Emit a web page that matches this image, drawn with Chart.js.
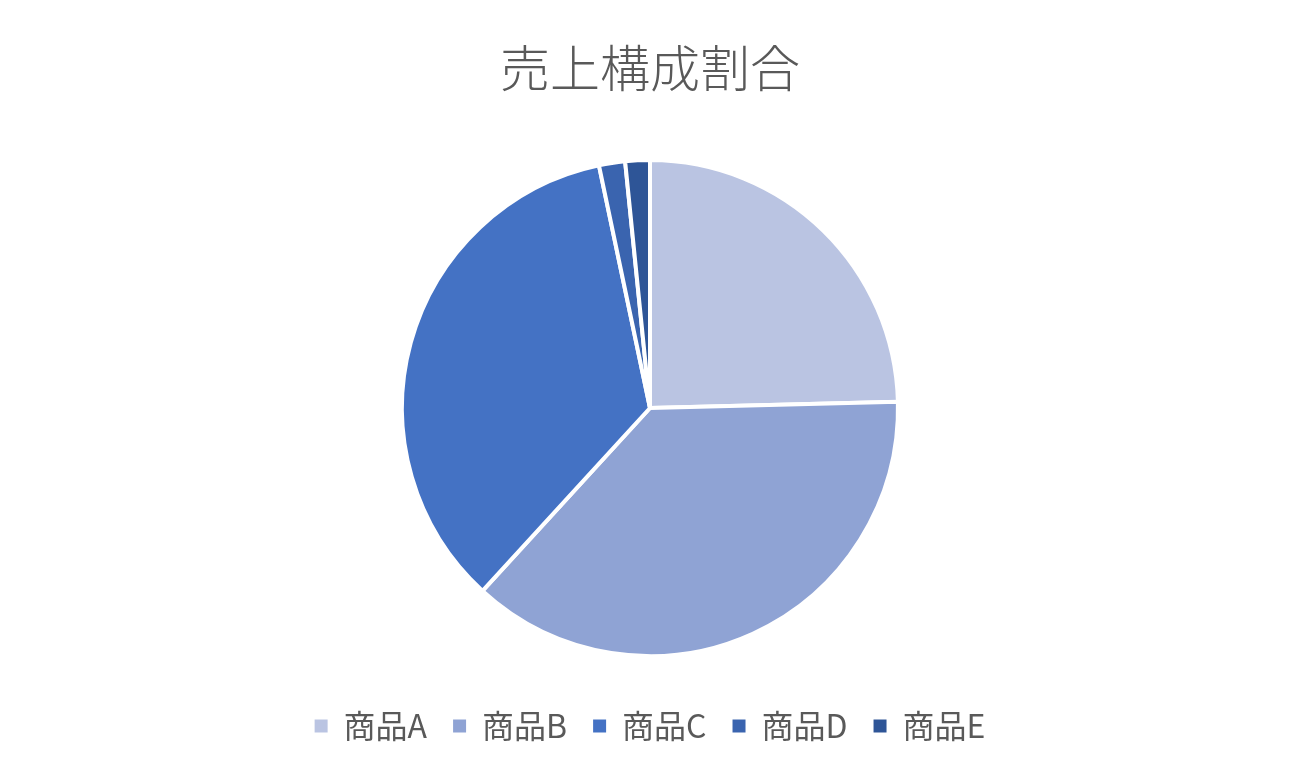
<!DOCTYPE html>
<html><head><meta charset="utf-8">
<script src="https://cdn.jsdelivr.net/npm/chart.js@4"></script>
<style>html,body{margin:0;padding:0;background:#fff;}#wrap{width:1300px;height:780px;}</style>
</head><body><div id="wrap"><canvas id="c" width="1300" height="780"></canvas></div>
<script>
const categories = ["商品A","商品B","商品C","商品D","商品E"];
const values = [24.6, 37.2, 34.9, 1.7, 1.6];
const colors = ["#BAC4E2","#8FA3D4","#4472C4","#3A64AF","#2E5597"];
const titleText = "売上構成割合";
const FONT = "'Noto Sans CJK JP','Noto Sans',sans-serif";

new Chart(document.getElementById('c'), {
  type: 'pie',
  data: { labels: categories, datasets: [{ data: values, backgroundColor: colors, borderColor: '#ffffff', borderWidth: 4, hoverOffset: 0, radius: 248 }] },
  options: {
    responsive: false, animation: false, devicePixelRatio: 1,
    layout: { padding: { bottom: 28 } },
    plugins: {
      title: { display: true, text: titleText, color: '#595959', font: { family: FONT, size: 50, weight: '300', lineHeight: 1.2 }, padding: { top: 38, bottom: 34 } },
      legend: { position: 'bottom', labels: {
        color: '#595959', font: { family: FONT, size: 32 }, boxWidth: 13, boxHeight: 13, padding: 26,
        generateLabels: (chart) => Chart.overrides.pie.plugins.legend.labels.generateLabels(chart).map(l => Object.assign(l, { lineWidth: 0, strokeStyle: 'rgba(0,0,0,0)' }))
      } },
      tooltip: { enabled: false }
    }
  }
});
</script></body></html>
